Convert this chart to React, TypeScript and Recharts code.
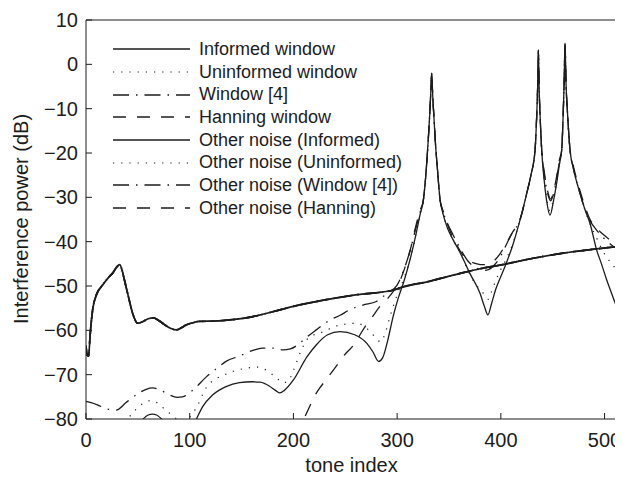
import { LineChart, Line, XAxis, YAxis, Label } from "recharts";

const FONT = '"Liberation Sans", Arial, Helvetica, sans-serif';
const INK = "#1c1c1c";

type Pt = [number, number];

const xTicks = [0, 100, 200, 300, 400, 500];
const yTicks = [-80, -70, -60, -50, -40, -30, -20, -10, 0, 10];

// spike tops, every window curve meets here
const spike333: Pt[] = [
  [325.3, -30.6], [328, -24], [330, -17], [331.5, -11], [332.5, -6], [333.3, -2],
  [334.3, -7], [335.5, -12], [337, -18], [339, -24], [341.4, -30.6],
];
const spike436: Pt[] = [
  [433, -19.3], [434.5, -12], [435.5, -5], [436.2, 3.2], [437, -6], [438, -12.5], [439.4, -19.3],
];
const spike462: Pt[] = [
  [458.7, -19.3], [460, -12], [461, -4.5], [461.9, 4.7], [462.8, -4], [464.3, -11], [466.7, -19.3],
];

const informedWindow: Pt[] = [
  [50, -82], [56, -79.8], [60, -79.1], [64, -78.9], [68, -79.1], [72, -79.8], [78, -81.5],
  [90, -85], [100, -83], [106, -80.2], [112.5, -77.2], [122, -74.6], [135, -72.7],
  [148, -71.8], [160, -71.6], [168, -71.7], [177, -72.6], [183, -73.6], [187, -74.1],
  [191, -73.6], [200, -71.2], [213, -66], [222, -63.3], [233, -61], [245, -60.3],
  [259, -61], [271, -63], [277, -65], [282, -67], [286, -66.2], [291, -62.2], [296, -57],
  [301, -52.8], [307, -48.6], [312.5, -44], [318, -38.5], [322, -34],
  ...spike333,
  [344, -33.5], [348, -36.6], [354, -39.6], [361, -42.6], [370, -47.1], [380, -51.7],
  [384, -54.5], [387.5, -56.5], [391, -54], [395, -50.8], [399, -48.4], [404, -45.6],
  [412, -40.4], [418.5, -35.1], [425, -29.1], [429, -25],
  ...spike436,
  [441.5, -25.5], [444, -30.5], [447.4, -34], [451, -30.5], [454, -26.5], [456.5, -22.5],
  ...spike462,
  [470, -23.5], [476.3, -29.1], [481, -32.7], [486, -35.9], [492.4, -41.9], [497, -45],
  [502, -48.6], [507, -51.8], [512, -55],
];

const uninformedWindow: Pt[] = [
  [38, -81], [42, -79.5], [47, -78.1], [51, -77.2], [55, -76.5], [61, -75.9], [66, -76],
  [70, -76.6], [75, -77.6], [80, -78.6], [84, -79.3], [90, -80.3], [96, -80.3], [101, -79.3],
  [106, -77.6], [110, -75.8], [113, -74.2], [116, -72.9], [122, -71.4], [132, -70.2],
  [141, -69.3], [153, -68.6], [165, -68.3], [174, -69], [184, -70.8], [190, -71.8],
  [195, -71.5], [200, -69], [207, -64.8], [214, -61.8], [222, -60.8], [229, -60.3],
  [239, -59.2], [250, -58.6], [260, -58.4], [268, -59], [274, -60.3], [279, -61.6],
  [284, -62.6], [288, -61], [293, -57], [300, -52], [307, -48], [312.5, -44], [318, -38.5],
  [322, -34],
  ...spike333,
  [344, -33.5], [348, -36.6], [354, -39.6], [361, -42.6], [366, -45.3], [372, -48.2],
  [378, -50.3], [382, -51.3], [386, -52.6], [388, -53], [391, -51.3], [395, -48.8],
  [399, -46.7], [404, -44.5], [412, -40.1], [418.5, -35.1], [425, -29.1], [429, -25],
  ...spike436,
  [441.5, -25.5], [444, -30], [447.4, -33], [451, -30], [454, -26.5], [456.5, -22.5],
  ...spike462,
  [470, -23.5], [476.3, -29.1], [481, -32.8], [486, -36], [492, -39], [497, -41.5],
  [502, -43.5], [507, -45], [512, -46.5],
];

const window4: Pt[] = [
  [0, -76], [5, -76.3], [11, -76.8], [20, -77.7], [29, -78], [38.6, -76.3], [50, -74.3],
  [58, -73.3], [64, -73], [71, -73.4], [80, -74.5], [88, -75.1], [93, -75], [103, -73.5],
  [116, -70.5], [125, -68.8], [135, -67], [148, -65.8], [161, -64.5], [170, -64], [180, -64],
  [190, -64.4], [197, -64.2], [204, -63.3], [213, -61.5], [222, -59.9], [235, -57.7],
  [245, -56.6], [254, -55.4], [267, -54.3], [280, -53.5], [290, -51.7], [300, -49.8],
  [307, -46], [312.5, -42], [318, -37], [322, -33.5],
  ...spike333,
  [344, -33], [348, -35.6], [354, -38.5], [361, -41.6], [368, -44.3], [377, -46],
  [383, -46.5], [388, -46.3], [394, -45.2], [399, -43.6], [405, -40.8], [411, -38],
  [418.5, -35.1], [425, -29.1], [429, -25],
  ...spike436,
  [442, -25], [445, -29], [448, -30.8], [451, -29], [454, -25.5], [456.5, -22],
  ...spike462,
  [470, -23.5], [476.3, -29.1], [481, -32.5], [486, -35.3], [491, -37], [496, -38.4],
  [502, -39.8], [507, -40.8], [512, -41.6],
];

const hanningWindow: Pt[] = [
  [200, -84], [205, -81.8], [211, -79.5], [216, -77], [221, -74.6], [227, -72.5],
  [233.5, -70.5], [241, -68.2], [248, -65.9], [258, -63.3], [269, -59.2], [276, -57],
  [283, -54.7], [291, -52.8], [297, -51], [302, -49.2], [307, -46.2], [312.5, -42],
  [318, -36.5], [322, -33],
  ...spike333,
  [345, -33.5], [350, -37], [357, -40.5], [364, -43.2], [371, -44.5], [377, -45],
  [383, -45.2], [388, -45], [393, -44.4], [399, -42.8], [405, -40.5], [411, -38],
  [418.5, -35], [425, -29], [429, -25],
  ...spike436,
  [442, -24.5], [445, -28.5], [448, -30.4], [451, -28.5], [454, -25], [456.5, -21.5],
  ...spike462,
  [470, -23], [476.3, -28.5], [481, -32], [486, -35], [492, -36.8], [496, -37.8],
  [502, -39], [507, -40], [512, -40.8],
];

// the four "other noise" curves lie on top of each other
const otherNoise: Pt[] = [
  [0, -63.5], [1, -65.5], [2.5, -65.8], [4, -61], [6.4, -55.4], [10, -52], [16, -49.8],
  [22, -48], [25.7, -47.1], [30, -45.6], [32.5, -45.2], [34.5, -46.2], [37, -48.6],
  [41, -52.5], [45, -56.2], [49.8, -58.4], [55, -58], [60, -57.4], [65, -57.2], [69, -57.6],
  [75, -58.6], [82, -59.6], [87, -59.9], [92, -59.4], [96.4, -58.8], [103, -58.3],
  [109, -58], [125, -57.9], [141, -57.6], [161, -56.9], [180, -55.8], [200, -54.6],
  [229, -53.2], [260, -52], [297, -50.9], [303, -50.4], [330, -49], [360, -47.2],
  [380, -46.1], [399, -45.3], [430, -43.8], [460, -42.6], [490, -41.7], [512, -41.1],
];

const SOLID = undefined;
const DOTTED = "1.2 7";
const DASHDOT = "16 7 1.5 7";
const DASHED = "13 11";

const series = [
  { name: "Informed window", points: informedWindow, dash: SOLID },
  { name: "Uninformed window", points: uninformedWindow, dash: DOTTED },
  { name: "Window [4]", points: window4, dash: DASHDOT },
  { name: "Hanning window", points: hanningWindow, dash: DASHED },
  { name: "Other noise (Informed)", points: otherNoise, dash: SOLID },
  { name: "Other noise (Uninformed)", points: otherNoise, dash: DOTTED },
  { name: "Other noise (Window [4])", points: otherNoise, dash: DASHDOT },
  { name: "Other noise (Hanning)", points: otherNoise, dash: DASHED },
];

const toRows = (pts: Pt[]) => pts.map(([x, y]) => ({ x, y }));
const fmt = (v: number) => (v < 0 ? "\u2212" + Math.abs(v) : String(v));

// draw noise curves first, solid ones last so they sit on top
const drawOrder = [7, 6, 5, 4, 3, 2, 1, 0];

function LegendBox() {
  return (
    <div
      style={{
        position: "absolute",
        left: 105,
        top: 30,
        fontFamily: FONT,
        fontSize: 18,
        color: INK,
      }}
    >
      {series.map((s) => (
        <div key={s.name} style={{ display: "flex", alignItems: "center", height: 22.7 }}>
          <svg width={86} height={10} style={{ display: "block", flexShrink: 0 }}>
            <line
              x1={0}
              y1={5}
              x2={77}
              y2={5}
              stroke={INK}
              strokeWidth={s.dash === DOTTED ? 1.2 : 1.3}
              strokeDasharray={s.dash}
            />
          </svg>
          <span style={{ lineHeight: "22.7px", whiteSpace: "nowrap" }}>{s.name}</span>
        </div>
      ))}
    </div>
  );
}

export default function App() {
  const tickStyle = { fill: INK, fontSize: 20, fontFamily: FONT };
  return (
    <div style={{ position: "relative", width: 615, height: 469 }}>
      <LineChart width={615} height={469} margin={{ top: 11, right: 5, bottom: 8, left: 0 }}>
        <XAxis
          xAxisId="b"
          dataKey="x"
          type="number"
          domain={[0, 512]}
          ticks={xTicks}
          allowDataOverflow
          height={50}
          tickSize={-6}
          tickMargin={20}
          stroke={INK}
          tick={tickStyle}
          tickFormatter={fmt}
          interval={0}
        >
          <Label
            content={() => (
              <text x={343.5} y={464} textAnchor="middle" fill={INK} fontSize={20} fontFamily={FONT}>
                tone index
              </text>
            )}
          />
        </XAxis>
        <XAxis
          xAxisId="t"
          orientation="top"
          type="number"
          domain={[0, 512]}
          ticks={xTicks}
          allowDataOverflow
          height={1}
          tickSize={-6}
          stroke={INK}
          tick={false}
          interval={0}
        />
        <YAxis
          yAxisId="l"
          type="number"
          domain={[-80, 10]}
          ticks={yTicks}
          allowDataOverflow
          width={78}
          tickSize={-6}
          tickMargin={14}
          stroke={INK}
          tick={tickStyle}
          tickFormatter={fmt}
          interval={0}
        >
          <Label
            content={() => (
              <text
                x={12.5}
                y={211}
                transform="rotate(-90 12.5 211)"
                textAnchor="middle"
                dominantBaseline="central"
                fill={INK}
                fontSize={20}
                fontFamily={FONT}
              >
                Interference power (dB)
              </text>
            )}
          />
        </YAxis>
        <YAxis
          yAxisId="r"
          orientation="right"
          type="number"
          domain={[-80, 10]}
          ticks={yTicks}
          allowDataOverflow
          width={1}
          tickSize={-6}
          stroke={INK}
          tick={false}
          interval={0}
        />
        {drawOrder.map((i) => {
          const s = series[i];
          const isNoise = i >= 4;
          return (
            <Line
              key={s.name}
              xAxisId="b"
              yAxisId="l"
              data={toRows(s.points)}
              dataKey="y"
              type="monotone"
              dot={false}
              isAnimationActive={false}
              stroke={INK}
              strokeWidth={isNoise ? 1.7 : s.dash === DOTTED ? 1.2 : 1.3}
              strokeDasharray={s.dash}
            />
          );
        })}
      </LineChart>
      <LegendBox />
    </div>
  );
}
